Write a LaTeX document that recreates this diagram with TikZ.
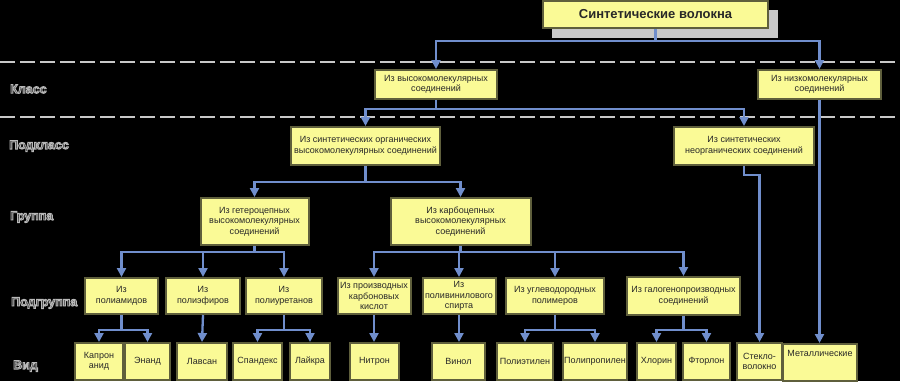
\documentclass[tikz,border=0pt]{standalone}
\usepackage{fontspec}
\setmainfont{Liberation Sans}
\usetikzlibrary{arrows.meta,calc}
\definecolor{boxfill}{RGB}{250,250,150}
\definecolor{boxline}{RGB}{95,95,60}
\definecolor{conn}{RGB}{112,142,204}
\definecolor{dashc}{RGB}{200,200,200}
\definecolor{shadowc}{RGB}{200,200,200}
\definecolor{txt}{RGB}{40,40,40}
\tikzset{
  box/.style={draw=boxline, fill=boxfill, line width=2pt, align=center,
    font=\fontsize{9}{10.5}\selectfont, text=txt, inner sep=1pt},
  leaf/.style={box, minimum height=37pt},
  sub/.style={box, minimum height=36pt},
  arr/.style={draw=conn, line width=2.3pt, -{Triangle[width=9pt,length=9pt]}},
  sep/.style={draw=dashc, line width=2pt, dash pattern=on 15pt off 5pt},
  lvl/.style={anchor=west, font=\bfseries\fontsize{12.5}{14}\selectfont, inner sep=0pt, text=black!80}
}
\newcommand{\lvltext}[1]{\special{pdf:literal direct 2 Tr 0.9 w 0.72 G}#1\special{pdf:literal direct 0 Tr}}
\begin{document}
\begin{tikzpicture}[x=1pt,y=-1pt]
\useasboundingbox (0,0) rectangle (900,381);
\fill[black] (0,0) rectangle (900,381);
% separators
\draw[sep] (0,62) -- (900,62);
\draw[sep] (0,117) -- (900,117);
% level labels
\node[lvl] (l1) at (10,89) {\lvltext{Класс}};
\node[lvl] (l2) at (9,146) {\lvltext{Подкласс}};
\node[lvl] (l3) at (10,217) {\lvltext{Группа}};
\node[lvl] (l4) at (11,303) {\lvltext{Подгруппа}};
\node[lvl] (l5) at (13,366) {\lvltext{Вид}};
% top
\fill[shadowc] (552,10) rectangle (778,38);
\node[box, minimum width=225pt, minimum height=27pt, font=\bfseries\fontsize{13}{15}\selectfont] (top) at (655.5,14.5) {Синтетические волокна};
% class
\node[box, minimum width=122pt, minimum height=29pt] (a1) at (436,84.5) {Из высокомолекулярных\\соединений};
\node[box, minimum width=123pt, minimum height=29pt] (a2) at (819.5,84.5) {Из низкомолекулярных\\соединений};
% subclass
\node[box, minimum width=149pt, minimum height=38pt] (b1) at (365.5,146) {Из синтетических органических\\высокомолекулярных соединений};
\node[box, minimum width=140pt, minimum height=38pt] (b2) at (744,146) {Из синтетических\\неорганических соединений};
% group
\node[box, minimum width=108pt, minimum height=47pt] (c1) at (254.5,221.5) {Из гетероцепных\\высокомолекулярных\\соединений};
\node[box, minimum width=140pt, minimum height=47pt] (c2) at (460.5,221.5) {Из карбоцепных\\высокомолекулярных\\соединений};
% subgroup
\node[sub, minimum width=73pt] (d1) at (121.5,296) {Из\\полиамидов};
\node[sub, minimum width=74pt] (d2) at (203,296) {Из\\полиэфиров};
\node[sub, minimum width=76pt] (d3) at (284,296) {Из\\полиуретанов};
\node[sub, minimum width=73pt] (d4) at (374,296) {Из производных\\карбоновых\\кислот};
\node[sub, minimum width=73pt] (d5) at (459,296) {Из\\поливинилового\\спирта};
\node[sub, minimum width=98pt] (d6) at (555,296) {Из углеводородных\\полимеров};
\node[sub, minimum width=113pt, minimum height=38pt] (d7) at (683.5,296) {Из галогенопроизводных\\соединений};
% leaves
\node[leaf, minimum width=48pt] (e1) at (99,361.5) {Капрон\\анид};
\node[leaf, minimum width=45pt] (e2) at (147.5,361.5) {Энанд};
\node[leaf, minimum width=50pt] (e3) at (202,361.5) {Лавсан};
\node[leaf, minimum width=49pt] (e4) at (257.5,361.5) {Спандекс};
\node[leaf, minimum width=40pt] (e5) at (310,361.5) {Лайкра};
\node[leaf, minimum width=49pt] (e6) at (374.5,361.5) {Нитрон};
\node[leaf, minimum width=53pt] (e7) at (458.5,361.5) {Винол};
\node[leaf, minimum width=56pt] (e8) at (525,361.5) {Полиэтилен};
\node[leaf, minimum width=64pt] (e9) at (595,361.5) {Полипропилен};
\node[leaf, minimum width=39pt] (e10) at (656.5,361.5) {Хлорин};
\node[leaf, minimum width=47pt] (e11) at (706.5,361.5) {Фторлон};
\node[leaf, minimum width=45pt] (e12) at (759.5,361.5) {Стекло-\\волокно};
\node[box, minimum width=74pt, anchor=north, text height=9pt, text depth=22pt, inner ysep=3pt] (e13) at (820,343) {Металлические};
% connectors
\draw[arr] (top.south) -- ++(0,12) -| (a1.north);
\draw[arr] (top.south) -- ++(0,12) -| (a2.north);
\draw[arr] (a1.south) -- ++(0,9) -| (b1.north);
\draw[arr] (a1.south) -- ++(0,9) -| (b2.north);
\draw[arr] (a2.south) -- (a2.south |- e13.north);
\draw[arr] (b2.south) -- ++(0,9) -| (e12.north);
\draw[arr] (b1.south) -- ++(0,16) -| (c1.north);
\draw[arr] (b1.south) -- ++(0,16) -| (c2.north);
\draw[arr] (c1.south) -- ++(0,6) -| (d1.north);
\draw[arr] (c1.south) -- ++(0,6) -| (d2.north);
\draw[arr] (c1.south) -- ++(0,6) -| (d3.north);
\draw[arr] (c2.south) -- ++(0,6) -| (d4.north);
\draw[arr] (c2.south) -- ++(0,6) -| (d5.north);
\draw[arr] (c2.south) -- ++(0,6) -| (d6.north);
\draw[arr] (c2.south) -- ++(0,6) -| (d7.north);
\draw[arr] (d1.south) -- ++(0,15) -| (e1.north);
\draw[arr] (d1.south) -- ++(0,15) -| (e2.north);
\draw[arr] (d2.south) -- (e3.north);
\draw[arr] (d3.south) -- ++(0,15) -| (e4.north);
\draw[arr] (d3.south) -- ++(0,15) -| (e5.north);
\draw[arr] (d4.south) -- (d4.south |- e6.north);
\draw[arr] (d5.south) -- (d5.south |- e7.north);
\draw[arr] (d6.south) -- ++(0,15) -| (e8.north);
\draw[arr] (d6.south) -- ++(0,15) -| (e9.north);
\draw[arr] (d7.south) -- ++(0,14) -| (e10.north);
\draw[arr] (d7.south) -- ++(0,14) -| (e11.north);
\end{tikzpicture}
\end{document}
